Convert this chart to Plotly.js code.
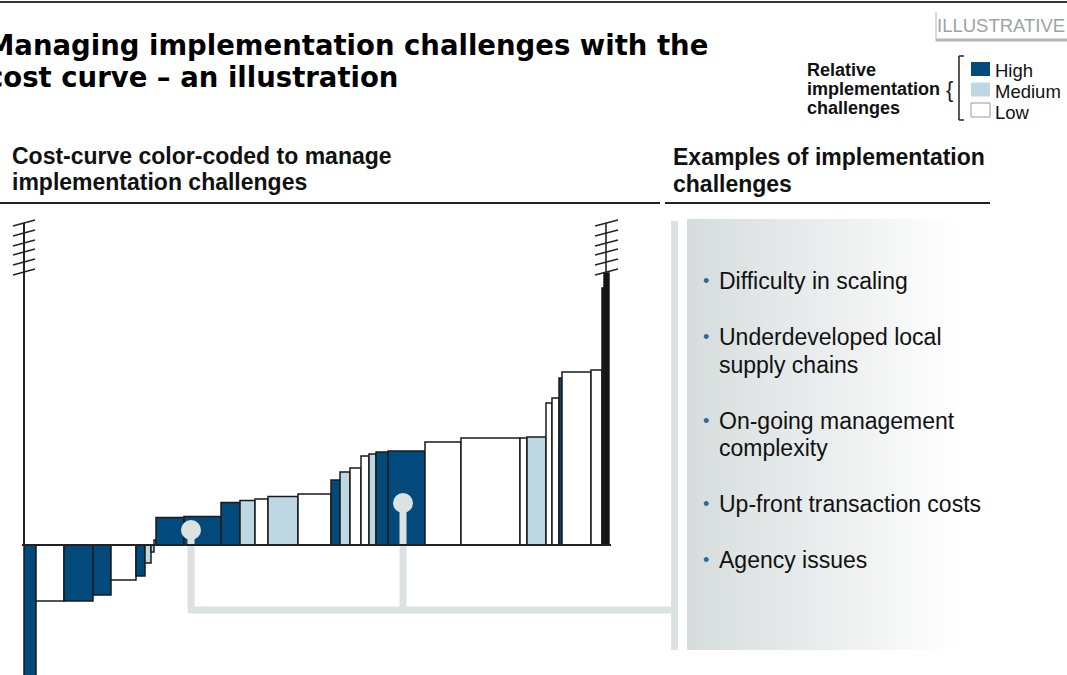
<!DOCTYPE html>
<html>
<head>
<meta charset="utf-8">
<title>Managing implementation challenges with the cost curve</title>
<script src="https://cdn.plot.ly/plotly-3.0.1.min.js"></script>
<style>
    html, body { margin: 0; padding: 0; background: #fff; }
    #chart { width: 1067px; height: 675px; }
</style>
</head>
<body>
<div id="chart"></div>
<script>
// cost curve levers, left to right: abatement volume (bar width) and cost (bar height)
const volumes = [2.4, 5.6, 5.8, 3.6, 5, 1.8, 1.2, 0.6, 0.4, 5.6, 7.4, 3.8, 3, 2.6, 6, 6.6, 1.8, 2,
                 2.2, 1.6, 1.4, 2.4, 7.4, 7.2, 11.8, 1.4, 3.8, 1.2, 1.4, 0.6, 5.8, 2.2, 0.4, 1.0];
const costs = [-32, -11.2, -11.2, -10, -7, -6.2, -3.6, -1.4, 1, 5.5, 5.7, 8.5, 8.9, 9.2, 9.7, 10.2, 13, 14.6,
               15.4, 17.8, 18.2, 18.6, 18.8, 20.6, 21.4, 21.4, 21.6, 28.4, 29.4, 33.4, 34.6, 35, 51.4, 54.4];
// relative implementation challenge of each lever (off = off-scale lever, drawn solid)
const challenge = ['High', 'Low', 'High', 'High', 'Low', 'High', 'Medium', 'Medium', 'Low', 'High', 'High', 'High',
                   'Medium', 'Low', 'Medium', 'Low', 'High', 'Medium', 'Low', 'Low', 'Medium', 'High', 'High', 'Low',
                   'Low', 'Low', 'Medium', 'Low', 'Low', 'High', 'Low', 'Low', 'off', 'off'];

const legendLabels = ['High', 'Medium', 'Low'];
const examples = [
    ['Difficulty in scaling'],
    ['Underdeveloped local', 'supply chains'],
    ['On-going management', 'complexity'],
    ['Up-front transaction costs'],
    ['Agency issues']
];

const colors = {High: '#02497c', Medium: '#bdd8e3', Low: '#ffffff', off: '#151515'};
const W = 1067, H = 675;
const FONT = 'Liberation Sans, Arial, sans-serif';
const X = p => p / W;
const Y = p => 1 - p / H;

// bar centres from cumulative volume
const centres = [];
let run = 0;
volumes.forEach(v => { centres.push(run + v / 2); run += v; });

const bars = {
    type: 'bar',
    x: centres,
    y: costs,
    width: volumes,
    marker: {
        color: challenge.map(c => colors[c]),
        line: {color: '#1a1a1a', width: 1.5}
    },
    hoverinfo: 'skip'
};

const shapes = [];
const annotations = [];

function line(x0, y0, x1, y1, color, width, layer) {
    shapes.push({type: 'line', xref: 'paper', yref: 'paper', x0: X(x0), y0: Y(y0), x1: X(x1), y1: Y(y1),
        line: {color: color, width: width}, layer: layer || 'above'});
}
function rect(x0, y0, x1, y1, fill, lineColor, layer) {
    shapes.push({type: 'rect', xref: 'paper', yref: 'paper', x0: X(x0), y0: Y(y0), x1: X(x1), y1: Y(y1),
        fillcolor: fill, line: {color: lineColor || fill, width: lineColor ? 1 : 0}, layer: layer || 'above'});
}
function text(t, x, y, size, opts) {
    annotations.push(Object.assign({
        text: t, xref: 'paper', yref: 'paper', x: X(x), y: Y(y), xanchor: 'left', yanchor: 'middle',
        showarrow: false, font: {family: FONT, size: size, color: '#111'}
    }, opts || {}));
}

// top rule and section rules
line(0, 2, W, 2, '#333', 2);
line(0, 203, 660, 203, '#222', 2);
line(665, 203, 990, 203, '#222', 2);

// right-hand panel with gradient
const strips = 60;
for (let i = 0; i < strips; i++) {
    const t = (i + 0.5) / strips;
    const c = [214, 220, 220].map(v => Math.round(v + (255 - v) * Math.min(1, t * 1.1)));
    rect(687 + i * (300 / strips), 219, 687 + (i + 1) * (300 / strips) + 0.5, 650, 'rgb(' + c.join(',') + ')', null, 'below');
}
rect(671, 221, 678, 650, '#dce2e2', null, 'below');

// connectors from levers to the panel
const conn = '#dce2e2';
line(191, 530, 191, 610, conn, 7);
line(403, 503, 403, 610, conn, 7);
line(188, 610, 675, 610, conn, 7);
shapes.push({type: 'circle', xref: 'paper', yref: 'paper', x0: X(181), x1: X(201), y0: Y(520), y1: Y(540),
    fillcolor: conn, line: {width: 0}, layer: 'above'});
shapes.push({type: 'circle', xref: 'paper', yref: 'paper', x0: X(393), x1: X(413), y0: Y(493), y1: Y(513),
    fillcolor: conn, line: {width: 0}, layer: 'above'});

// axes of the cost curve
line(24, 223, 24, 545, '#222', 2);
line(22, 545, 611, 545, '#222', 2);
line(606, 223, 606, 275, '#151515', 1.5);
// axis break marks
[223, 233, 243, 252, 262, 272].forEach(y => {
    line(13, y + 3, 35, y - 3, '#222', 1.5);
    line(595, y + 3, 618, y - 3, '#222', 1.5);
});

// title (runs off the left edge, as in the source slide)
const TFONT = {family: 'DejaVu Sans, Liberation Sans, sans-serif', size: 27.5, color: '#000'};
text('<b>Managing implementation challenges with the</b>', -15, 45, 27.5, {font: TFONT});
text('<b>cost curve \u2013 an illustration</b>', -15, 77, 27.5, {font: TFONT});

// ILLUSTRATIVE tag
text('ILLUSTRATIVE', 935, 26, 18.5, {font: {family: FONT, size: 18.5, color: '#9aa4a4'}});
line(936, 40, W, 40, '#b0b8b8', 3);
line(936, 12, 936, 41, '#b0b8b8', 1);

// legend
text('<b>Relative</b>', 805, 70, 18);
text('<b>implementation</b>', 805, 89, 18);
text('<b>challenges</b>', 805, 108, 18);
text('{', 944, 89, 22, {font: {family: FONT, size: 22, color: '#222'}});
line(959, 56, 959, 120, '#222', 1.5);
line(959, 56, 964, 56, '#222', 1.5);
line(959, 120, 964, 120, '#222', 1.5);
legendLabels.forEach((lab, i) => {
    const y = 69 + i * 20.5;
    rect(971, y - 7, 990, y + 7, colors[lab], lab === 'Low' ? '#999' : null);
    text(lab, 993, y + 2, 18.5);
});

// section headers
text('<b>Cost-curve color-coded to manage</b>', 10, 156, 23);
text('<b>implementation challenges</b>', 10, 182, 23);
text('<b>Examples of implementation</b>', 671, 157, 23);
text('<b>challenges</b>', 671, 184, 23);

// bullet list
let yb = 281;
examples.forEach(item => {
    text('\u2022', 701, yb, 18, {font: {family: FONT, size: 18, color: '#2b6a9b'}});
    item.forEach((ln, j) => text(ln, 717, yb + j * 27.5, 23));
    yb += 56 + 27.5 * (item.length - 1);
});

const layout = {
    width: W,
    height: H,
    autosize: false,
    margin: {l: 0, r: 0, t: 0, b: 0},
    showlegend: false,
    paper_bgcolor: '#fff',
    plot_bgcolor: 'rgba(0,0,0,0)',
    xaxis: {range: [-24 / 5, (W - 24) / 5], visible: false, fixedrange: true},
    yaxis: {range: [(545 - H) / 5, 545 / 5], visible: false, fixedrange: true},
    shapes: shapes,
    annotations: annotations
};

Plotly.newPlot('chart', [bars], layout, {displayModeBar: false, staticPlot: true});
</script>
</body>
</html>
